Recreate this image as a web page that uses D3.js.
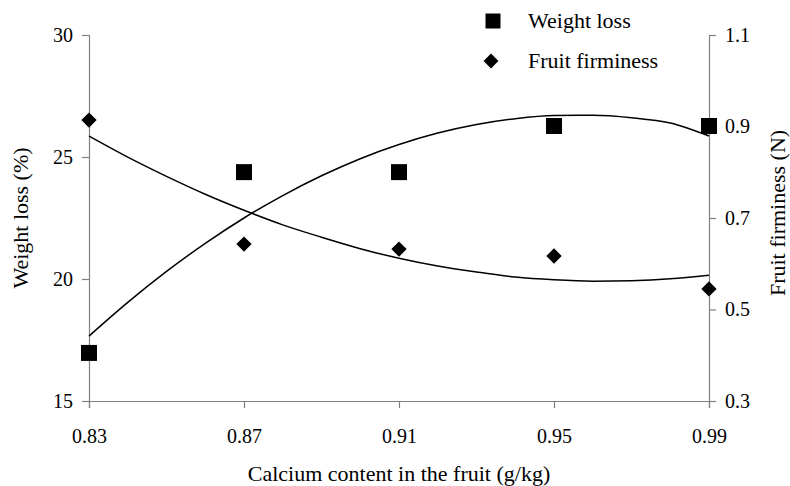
<!DOCTYPE html>
<html>
<head>
<meta charset="utf-8">
<script src="https://cdn.jsdelivr.net/npm/d3@7"></script>
<style>
  body { margin: 0; background: #fff; }
  svg text { font-family: "Liberation Serif", "Times New Roman", serif; fill: #000; }
</style>
</head>
<body>
<div id="chart"></div>
<script>
// measured points
const calcium = [0.83, 0.87, 0.91, 0.95, 0.99];
const weightLoss = [16.97, 24.38, 24.38, 26.27, 26.27];
const firmness = [0.914, 0.643, 0.632, 0.617, 0.545];

// trend lines, every 0.01 g/kg
const trendX = [0.83, 0.84, 0.85, 0.86, 0.87, 0.88, 0.89, 0.90, 0.91,
                0.92, 0.93, 0.94, 0.95, 0.96, 0.97, 0.98, 0.99];
const weightTrend = [17.66, 19.04, 20.31, 21.46, 22.50, 23.42, 24.23, 24.93, 25.51,
                     25.98, 26.33, 26.57, 26.70, 26.71, 26.61, 26.39, 25.86];
const firmTrend = [0.879, 0.833, 0.791, 0.752, 0.717, 0.685, 0.658, 0.633, 0.612,
                   0.595, 0.582, 0.571, 0.565, 0.562, 0.563, 0.567, 0.575];

const xTicks = [0.83, 0.87, 0.91, 0.95, 0.99];
const leftTicks = [15, 20, 25, 30];
const rightTicks = [0.3, 0.5, 0.7, 0.9, 1.1];

const W = 790, H = 486;
const margin = {top: 35, right: 81, bottom: 85, left: 89};
const width = W - margin.left - margin.right;
const height = H - margin.top - margin.bottom;
const axisColor = '#808080';

const svg = d3.select('#chart').append('svg')
    .attr('width', W)
    .attr('height', H);

const g = svg.append('g')
    .attr('transform', `translate(${margin.left},${margin.top})`);

const x = d3.scaleLinear().domain([0.83, 0.99]).range([0, width]);
const yL = d3.scaleLinear().domain([15, 30]).range([height, 0]);
const yR = d3.scaleLinear().domain([0.3, 1.1]).range([height, 0]);

// axes
const xAxis = g.append('g')
    .attr('transform', `translate(0,${height})`)
    .call(d3.axisBottom(x).tickValues(xTicks).tickFormat(d3.format('.2f')).tickSize(7).tickPadding(21));

const lAxis = g.append('g')
    .call(d3.axisLeft(yL).tickValues(leftTicks).tickSize(7).tickPadding(9));

const rAxis = g.append('g')
    .attr('transform', `translate(${width},0)`)
    .call(d3.axisRight(yR).tickValues(rightTicks).tickFormat(d3.format('.1f')).tickSize(7).tickPadding(9));

[xAxis, lAxis, rAxis].forEach(a => {
    a.select('.domain').attr('stroke', axisColor).attr('stroke-width', 1.2);
    a.selectAll('.tick line').attr('stroke', axisColor).attr('stroke-width', 1.2);
    a.selectAll('.tick text')
        .style('font-family', '"Liberation Serif", serif')
        .style('font-size', '20px')
        .attr('fill', '#000');
});

// trend lines
const lineL = d3.line().x((d, i) => x(trendX[i])).y(d => yL(d)).curve(d3.curveMonotoneX);
const lineR = d3.line().x((d, i) => x(trendX[i])).y(d => yR(d)).curve(d3.curveMonotoneX);

g.append('path').datum(weightTrend)
    .attr('d', lineL)
    .attr('fill', 'none')
    .attr('stroke', '#000')
    .attr('stroke-width', 1.5);

g.append('path').datum(firmTrend)
    .attr('d', lineR)
    .attr('fill', 'none')
    .attr('stroke', '#000')
    .attr('stroke-width', 1.5);

// markers
const sq = d3.symbol().type(d3.symbolSquare).size(256);
const dm = d3.symbol().type(d3.symbolDiamond2).size(150);

g.selectAll('path.wl')
    .data(weightLoss)
    .enter()
    .append('path')
    .attr('class', 'wl')
    .attr('d', sq)
    .attr('transform', (d, i) => `translate(${x(calcium[i])},${yL(d)})`)
    .attr('fill', '#000');

g.selectAll('path.ff')
    .data(firmness)
    .enter()
    .append('path')
    .attr('class', 'ff')
    .attr('d', dm)
    .attr('transform', (d, i) => `translate(${x(calcium[i])},${yR(d)})`)
    .attr('fill', '#000');

// axis titles
svg.append('text')
    .attr('x', margin.left + width / 2)
    .attr('y', 481)
    .attr('text-anchor', 'middle')
    .style('font-size', '22px')
    .text('Calcium content in the fruit (g/kg)');

svg.append('text')
    .attr('transform', `translate(28,218) rotate(-90)`)
    .attr('text-anchor', 'middle')
    .style('font-size', '22px')
    .text('Weight loss (%)');

svg.append('text')
    .attr('transform', `translate(785,213) rotate(-90)`)
    .attr('text-anchor', 'middle')
    .style('font-size', '22px')
    .text('Fruit firminess (N)');

// legend
const legend = svg.append('g').attr('transform', 'translate(493,0)');
const legendItems = [
    {label: 'Weight loss', type: d3.symbolSquare, size: 225, y: 21},
    {label: 'Fruit firminess', type: d3.symbolDiamond2, size: 140, y: 61}
];
legend.selectAll('path')
    .data(legendItems)
    .enter()
    .append('path')
    .attr('d', d => d3.symbol().type(d.type).size(d.size)())
    .attr('transform', (d, i) => `translate(${i ? -2 : 0},${d.y})`)
    .attr('fill', '#000');
legend.selectAll('text')
    .data(legendItems)
    .enter()
    .append('text')
    .attr('x', 35)
    .attr('y', d => d.y + 7)
    .style('font-size', '22px')
    .text(d => d.label);
</script>
</body>
</html>
